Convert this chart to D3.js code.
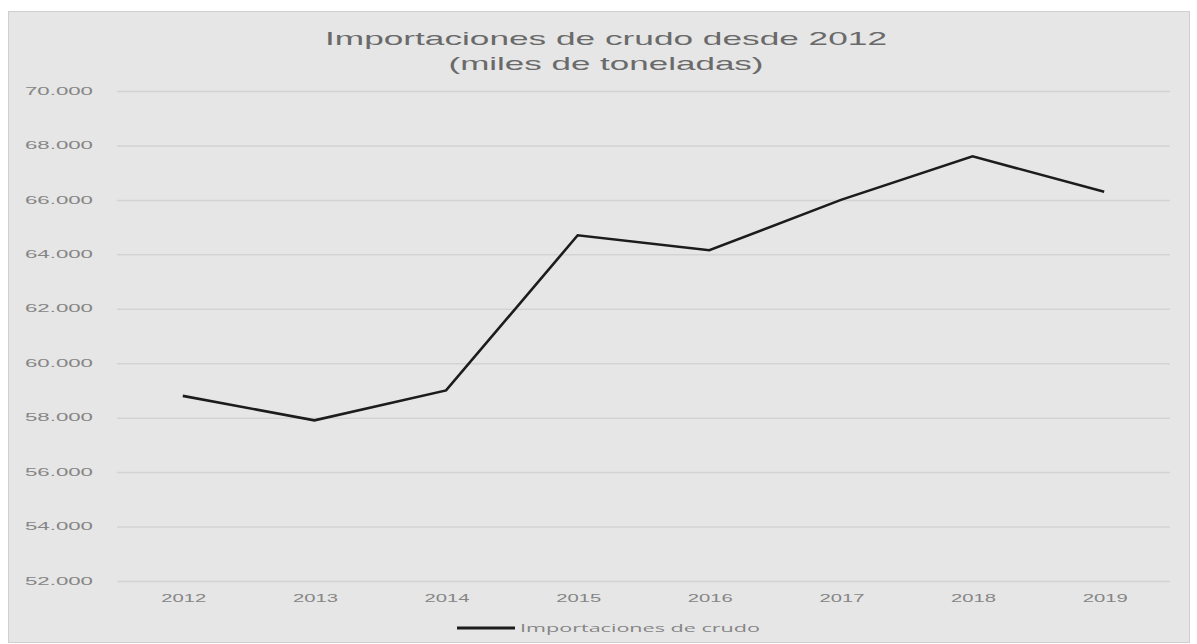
<!DOCTYPE html>
<html>
<head>
<meta charset="utf-8">
<script src="https://cdn.jsdelivr.net/npm/d3@7"></script>
<style>
  body { margin: 0; background: #ffffff; }
  svg { display: block; font-family: "Open Sans", sans-serif; }
</style>
</head>
<body>
<div id="chart"></div>
<script>
// Chart data
const years = ["2012", "2013", "2014", "2015", "2016", "2017", "2018", "2019"];
const imports = [58800, 57900, 59000, 64700, 64150, 66000, 67600, 66300];
const yTicks = [52000, 54000, 56000, 58000, 60000, 62000, 64000, 66000, 68000, 70000];
const titleLines = ["Importaciones de crudo desde 2012", "(miles de toneladas)"];
const seriesName = "Importaciones de crudo";

const W = 1197, H = 644;
const margin = {top: 91, right: 27, bottom: 63, left: 117};
const width = W - margin.left - margin.right;
const height = H - margin.top - margin.bottom;

const svg = d3.select("#chart").append("svg")
  .attr("width", W)
  .attr("height", H);

// chart area background and border
svg.append("rect")
  .attr("x", 8.5).attr("y", 11.5)
  .attr("width", 1181).attr("height", 631)
  .attr("fill", "#e6e6e6")
  .attr("stroke", "#cfcfcf");

//Title - the original text is stretched wide, so use textLength
const titleWidths = [562, 315];
svg.append("g").selectAll("text")
  .data(titleLines)
  .join("text")
  .attr("x", 606)
  .attr("y", (d, i) => 45 + i * 25)
  .attr("text-anchor", "middle")
  .attr("textLength", (d, i) => titleWidths[i])
  .attr("lengthAdjust", "spacingAndGlyphs")
  .attr("fill", "#6a6a6a")
  .style("font-family", "'Liberation Sans', sans-serif")
  .style("font-size", "19px")
  .text(d => d);

const g = svg.append("g")
  .attr("transform", "translate(" + margin.left + "," + margin.top + ")");

let xScale = d3.scaleBand()
  .domain(years)
  .range([0, width]);

let yScale = d3.scaleLinear()
  .domain([52000, 70000])
  .range([height, 0]);

const fmtThousands = v => d3.format(",")(v).replace(",", ".");

// horizontal gridlines + y labels
let yAxis = d3.axisLeft(yScale)
  .tickValues(yTicks)
  .tickSize(-width)
  .tickPadding(24)
  .tickFormat(fmtThousands);
let yG = g.append("g").call(yAxis);
yG.select(".domain").remove();
yG.selectAll(".tick line").attr("stroke", "#d3d3d3").attr("stroke-width", 1.5);
yG.selectAll(".tick text")
  .attr("fill", "#858585")
  .attr("textLength", 68)
  .attr("lengthAdjust", "spacingAndGlyphs")
  .style("font-size", "10px");

// x labels
let xAxis = d3.axisBottom(xScale).tickSize(0).tickPadding(14);
let xG = g.append("g")
  .attr("transform", "translate(0," + height + ")")
  .call(xAxis);
xG.select(".domain").remove();
xG.selectAll(".tick text")
  .attr("fill", "#858585")
  .attr("dx", 1)
  .attr("textLength", 45)
  .attr("lengthAdjust", "spacingAndGlyphs")
  .style("font-size", "10px");

//Line
let line = d3.line()
  .x((d, i) => xScale(years[i]) + xScale.bandwidth() / 2)
  .y(d => yScale(d));
g.append("path")
  .attr("d", line(imports))
  .attr("fill", "none")
  .attr("stroke", "#1c1c1c")
  .attr("stroke-width", 2.6)
  .attr("stroke-linejoin", "miter");

// legend
const leg = svg.append("g").attr("transform", "translate(457,628)");
leg.append("line")
  .attr("x1", 0).attr("x2", 58)
  .attr("stroke", "#1c1c1c").attr("stroke-width", 3);
leg.append("text")
  .attr("x", 63).attr("y", 4)
  .attr("fill", "#858585")
  .attr("textLength", 240)
  .attr("lengthAdjust", "spacingAndGlyphs")
  .style("font-size", "10px")
  .text(seriesName);
</script>
</body>
</html>
